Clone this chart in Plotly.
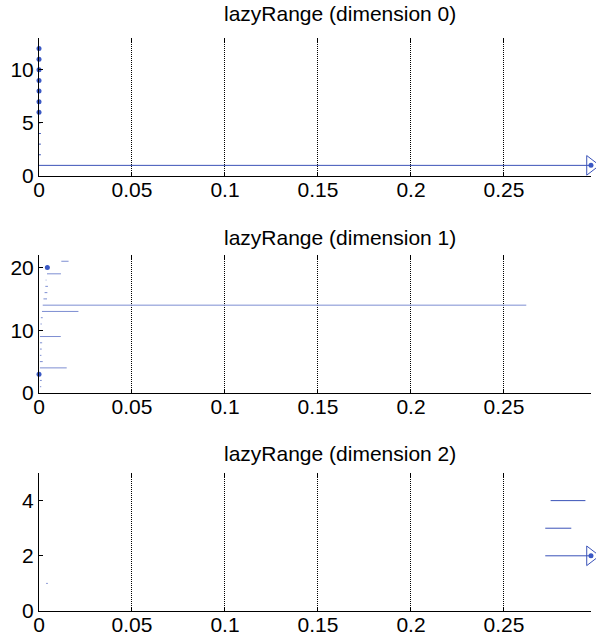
import plotly.graph_objects as go

# ---------------- data ----------------
X_MAX = 0.2968
X_TICKS = [0, 0.05, 0.1, 0.15, 0.2, 0.25]
X_TICK_TEXT = ["0", "0.05", "0.1", "0.15", "0.2", "0.25"]

TITLES = ["lazyRange (dimension 0)", "lazyRange (dimension 1)", "lazyRange (dimension 2)"]
Y_RANGES = [[0, 13], [0, 22], [0, 5]]
Y_TICKS = [[0, 5, 10], [0, 10, 20], [0, 2, 4]]

INF = float("inf")

# dimension 0 intervals (bar index, birth, death)
d0_index = [1, 2, 3, 4, 5]
d0_birth = [0.0, 0.0, 0.0, 0.0, 0.0]
d0_death = [INF, 0.0010, 0.0010, 0.0010, 0.0008]
# zero-length intervals (drawn as dots)
d0_pt_index = [6, 7, 8, 9, 10, 11, 12]
d0_pt_value = [0.0, 0.0, 0.0, 0.0, 0.0, 0.0, 0.0]

# dimension 1 intervals
d1_index = [1, 2, 4, 5, 6, 7, 8, 9, 11, 12, 13, 14, 15, 16, 17, 18, 19, 21]
d1_birth = [0.0005, 0.0005, 0.0005, 0.0005, 0.0005, 0.0005, 0.0005, 0.0005,
            0.0008, 0.0010, 0.0016, 0.0020, 0.0024, 0.0030, 0.0034, 0.0036,
            0.0043, 0.0120]
d1_death = [0.0012, 0.0015, 0.0149, 0.0020, 0.0013, 0.0015, 0.0017, 0.0117,
            0.0015, 0.0020, 0.0212, 0.2620, 0.0043, 0.0045, 0.0048, 0.0040,
            0.0118, 0.0159]
d1_pt_index = [3, 20]
d1_pt_value = [0.0, 0.0045]

# dimension 2 intervals
d2_index = [1, 2, 3, 4]
d2_birth = [0.0040, 0.2722, 0.2722, 0.2751]
d2_death = [0.0046, INF, 0.2862, 0.2938]
d2_pt_index = []
d2_pt_value = []

PANELS = [
    (d0_index, d0_birth, d0_death, d0_pt_index, d0_pt_value),
    (d1_index, d1_birth, d1_death, d1_pt_index, d1_pt_value),
    (d2_index, d2_birth, d2_death, d2_pt_index, d2_pt_value),
]

# ---------------- styling ----------------
BAR_COLORS = ["#3a52b8", "#7d8ed2", "#3a52b8"]
DOT_COLOR = "#3a58c4"
FONT = "Liberation Sans, Arial, sans-serif"

W, H = 596, 638
ML, MR, MT, MB = 39, 5, 38, 27
DOMAINS = [[0.7592, 1.0], [0.3805, 0.6213], [0.0, 0.2408]]
TITLE_Y = [1.042, 0.6527, 0.274]
X_END = X_MAX * 0.99995  # position of the "infinite" arrow, just inside the range

fig = go.Figure()

for i, (idx, birth, death, pidx, pval) in enumerate(PANELS):
    xa = "x" if i == 0 else f"x{i+1}"
    ya = "y" if i == 0 else f"y{i+1}"
    xs, ys = [], []
    arrow_x, arrow_y = [], []
    for yv, b, d in zip(idx, birth, death):
        end = X_END if d == INF else d
        xs += [b, end, None]
        ys += [yv, yv, None]
        if d == INF:
            arrow_x.append(X_END)
            arrow_y.append(yv)
    fig.add_trace(go.Scatter(x=xs, y=ys, mode="lines", xaxis=xa, yaxis=ya,
                             line=dict(color=BAR_COLORS[i], width=1),
                             showlegend=False, hoverinfo="skip", cliponaxis=False))
    if pidx:
        fig.add_trace(go.Scatter(x=pval, y=pidx, mode="markers", xaxis=xa, yaxis=ya,
                                 marker=dict(color=DOT_COLOR, size=5),
                                 showlegend=False, cliponaxis=False))
    if arrow_x:
        fig.add_trace(go.Scatter(x=arrow_x, y=arrow_y, mode="markers", xaxis=xa, yaxis=ya,
                                 marker=dict(symbol="triangle-right-open", size=17,
                                             color="#3a52b8", line=dict(width=1, color="#3a52b8")),
                                 showlegend=False, cliponaxis=False))
        fig.add_trace(go.Scatter(x=arrow_x, y=arrow_y, mode="markers", xaxis=xa, yaxis=ya,
                                 marker=dict(symbol="circle", size=5, color=DOT_COLOR),
                                 showlegend=False, cliponaxis=False))
    # invisible trace for the top tick axis
    fig.add_trace(go.Scatter(x=[None], y=[None], xaxis=f"x{i+4}", yaxis=ya,
                             showlegend=False, hoverinfo="skip"))

    xkey = "xaxis" if i == 0 else f"xaxis{i+1}"
    ykey = "yaxis" if i == 0 else f"yaxis{i+1}"
    fig.update_layout(**{
        xkey: dict(domain=[0, 1], anchor=ya, range=[0, X_MAX], automargin=False,
                   tickvals=X_TICKS, ticktext=X_TICK_TEXT,
                   ticks="inside", ticklen=4, tickcolor="black", tickwidth=1,
                   ticklabelstandoff=-5,
                   showline=True, linecolor="black", linewidth=1,
                   showgrid=True, gridcolor="black", gridwidth=1, griddash="1px,1px",
                   zeroline=False, tickfont=dict(size=21, color="black", family=FONT)),
        ykey: dict(domain=DOMAINS[i], anchor=xa, range=Y_RANGES[i], automargin=False,
                   tickvals=Y_TICKS[i], ticks="inside", ticklen=4, tickcolor="black",
                   showline=True, linecolor="black", linewidth=1,
                   showgrid=False, zeroline=False,
                   tickfont=dict(size=21, color="black", family=FONT)),
        f"xaxis{i+4}": dict(overlaying=xa, anchor=ya, side="top", automargin=False,
                            range=[0, X_MAX], tickvals=X_TICKS, ticks="inside", ticklen=4,
                            tickcolor="black", showticklabels=False, showline=False,
                            showgrid=False, zeroline=False),
    })
    fig.add_annotation(text=TITLES[i], xref="paper", yref="paper",
                       x=(340 - ML) / (W - ML - MR), y=TITLE_Y[i],
                       xanchor="center", yanchor="middle", showarrow=False,
                       font=dict(size=21, color="black", family=FONT))

fig.update_layout(width=W, height=H, margin=dict(l=ML, r=MR, t=MT, b=MB),
                  plot_bgcolor="white", paper_bgcolor="white", showlegend=False)

fig.write_html("out.html", config={"displayModeBar": False},
               post_script="document.body.style.margin='0';"
                           "document.body.style.overflow='hidden';")
